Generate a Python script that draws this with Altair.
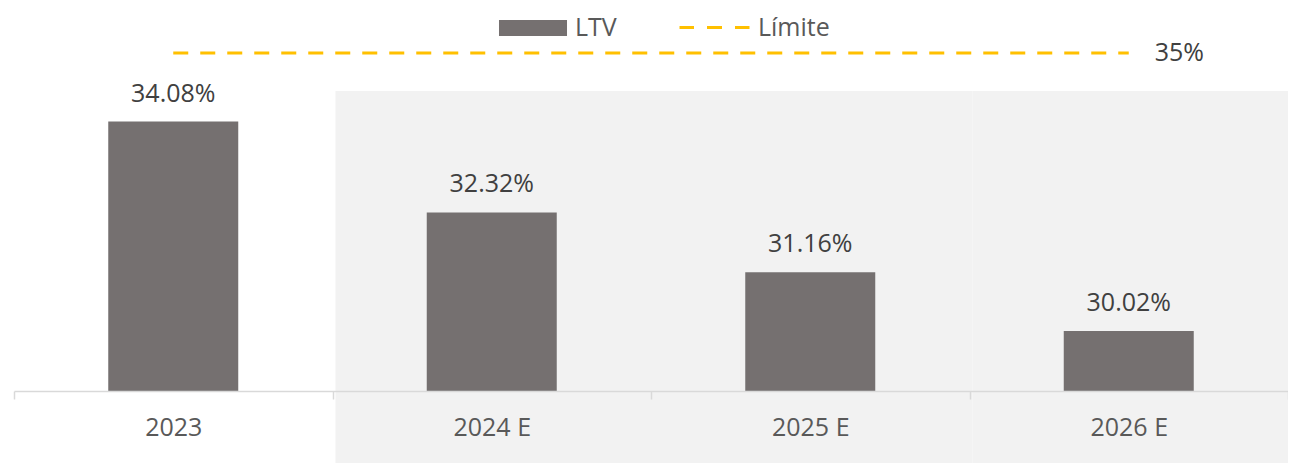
import altair as alt
import pandas as pd

categories = ["2023", "2024 E", "2025 E", "2026 E"]
ltv = [34.08, 32.32, 31.16, 30.02]
ltv_labels = ["34.08%", "32.32%", "31.16%", "30.02%"]
limit = [35, 35, 35, 35]
limit_labels = ["", "", "", "35%"]
shaded = ["2024 E", "2025 E", "2026 E"]

FONT = "Open Sans"
W, H = 1274, 351

bars_df = pd.DataFrame({"cat": categories, "ltv": ltv, "lab": ltv_labels, "s_bar": "LTV"})
line_df = pd.DataFrame({"cat": categories, "lim": limit, "lab": limit_labels, "s_line": "Límite"})
shade_df = pd.DataFrame({"cat": shaded})

x_enc = alt.X(
    "cat:N",
    sort=categories,
    scale=alt.Scale(domain=categories, paddingInner=0, paddingOuter=0),
    axis=alt.Axis(
        title=None, labelAngle=0, domainColor="#d9d9d9", domainWidth=1.5,
        tickColor="#d9d9d9", tickWidth=1.5, tickSize=8, tickBand="extent",
        labelFont=FONT, labelFontSize=25, labelColor="#595959", labelPadding=16,
        grid=False,
    ),
)

y_bar = alt.Y("ltv:Q", scale=alt.Scale(domain=[28.86, 35.66], nice=False, zero=False, clamp=True), axis=None)

shade = alt.Chart(shade_df).mark_rect(color="#f2f2f2", xOffset=3).encode(
    x=x_enc, y=alt.value(51), y2=alt.value(440)
)

bars = alt.Chart(bars_df).mark_bar(size=130).encode(
    x=x_enc,
    y=y_bar,
    fill=alt.Fill(
        "s_bar:N",
        scale=alt.Scale(domain=["LTV"], range=["#757070"]),
        legend=alt.Legend(
            title=None, orient="none", legendX=504, legendY=-27, padding=0,
            symbolType="M-2.267,-0.533H2.267V0.533H-2.267Z", symbolSize=900, symbolStrokeWidth=0,
            labelFont=FONT, labelFontSize=25, labelColor="#595959", labelOffset=27,
            labelLimit=300,
        ),
    ),
)

bar_labels = alt.Chart(bars_df).mark_text(
    baseline="alphabetic", dy=-20, fontSize=25, font=FONT, color="#404040"
).encode(x=x_enc, y=y_bar, text="lab:N")

y_lim = alt.Y("lim:Q", scale=alt.Scale(domain=[0, 36.35], nice=False), axis=None)

line = alt.Chart(line_df).mark_line(strokeWidth=3, strokeDash=[15, 12]).encode(
    x=x_enc,
    y=y_lim,
    stroke=alt.Stroke(
        "s_line:N",
        scale=alt.Scale(domain=["Límite"], range=["#FFC000"]),
        legend=alt.Legend(
            title=None, orient="none", legendX=684, legendY=-29, padding=0,
            symbolType="M-2.333,0H-1.367M-0.5,0H0.5M1.367,0H2.333", symbolSize=900,
            symbolStrokeWidth=3, symbolDash=[200, 0],
            labelFont=FONT, labelFontSize=25, labelColor="#595959", labelOffset=27,
            labelLimit=300,
        ),
    ),
)

line_label = alt.Chart(line_df).mark_text(
    align="left", baseline="middle", dx=26, fontSize=25, font=FONT, color="#404040"
).encode(x=x_enc, y=y_lim, text="lab:N")

main = alt.layer(shade, bars, bar_labels)
lim = alt.layer(line, line_label)

chart = (
    alt.layer(main, lim)
    .resolve_scale(y="independent")
    .properties(
        width=W, height=H,
        autosize=alt.AutoSizeParams(type="none"),
        padding={"left": 6, "top": 32, "right": 0, "bottom": 72},
        background="white",
    )
    .configure_view(stroke=None)
)

chart.save("out.html", embed_options={"renderer": "svg", "actions": False})
